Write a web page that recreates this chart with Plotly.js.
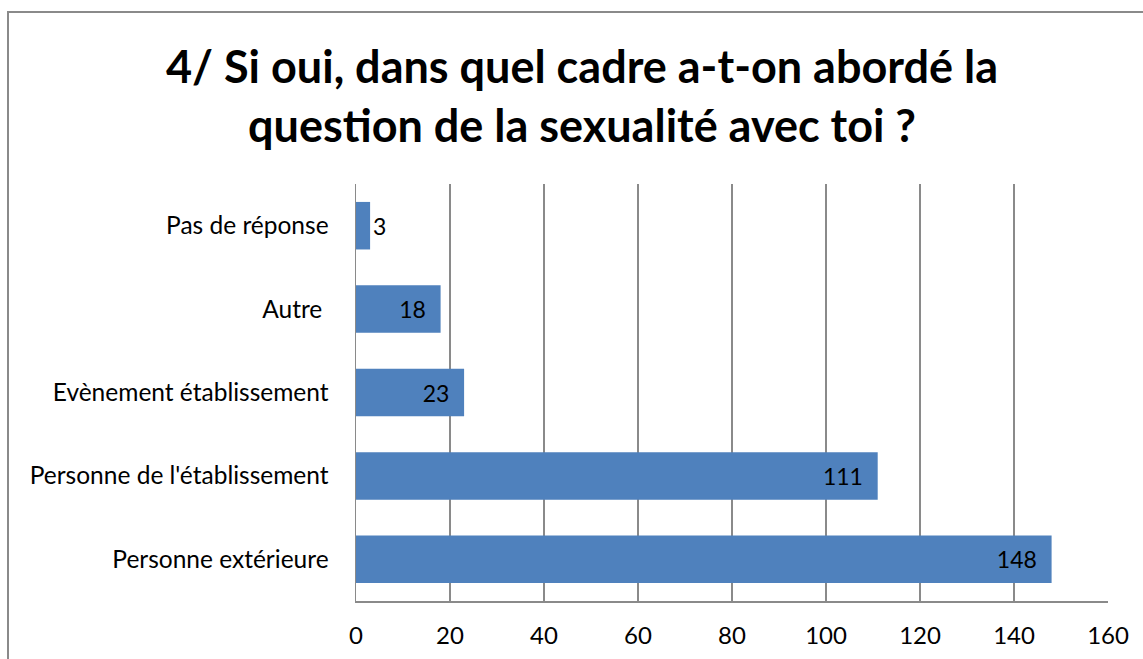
<!DOCTYPE html>
<html><head><meta charset="utf-8">
<script src="https://cdn.plot.ly/plotly-3.0.1.min.js"></script>
<style>html,body{margin:0;padding:0;background:#fff;overflow:hidden}#wrap{position:relative;width:1143px;height:659px;overflow:hidden}#chart{position:absolute;left:0;top:0;width:1143px;height:659px;z-index:1}#frame{position:absolute;left:7px;top:11px;width:1180px;height:700px;border:2px solid #8a8a8a;pointer-events:none;z-index:10;box-sizing:border-box}</style>
</head><body><div id="wrap"><div id="chart"></div><div id="frame"></div></div>
<script>
const categories = ["Personne extérieure", "Personne de l'établissement", "Evènement établissement", "Autre ", "Pas de réponse"];
const values = [148, 111, 23, 18, 3];
const xTicks = [0, 20, 40, 60, 80, 100, 120, 140, 160];
const titleText = "4/ Si oui, dans quel cadre a-t-on abordé la<br>question de la sexualité avec toi ?";

const FONT = "Lato, 'Open Sans', sans-serif";
const W = 1143, H = 659, L = 356, R = 35, T = 184, B = 58;
const pw = W - L - R, ph = H - T - B;

const trace = {
  type: 'bar', orientation: 'h',
  y: categories, x: values,
  marker: {color: '#4F81BD'},
  text: values.map(v => v + '\u00a0\u00a0'),
  textposition: 'auto',
  insidetextanchor: 'end',
  textfont: {family: FONT, size: 23, color: '#000'},
  insidetextfont: {family: FONT, size: 23, color: '#000'},
  outsidetextfont: {family: FONT, size: 23, color: '#000'},
  cliponaxis: false,
  hoverinfo: 'skip'
};

const layout = {
  width: W, height: H,
  margin: {l: L, r: R, t: T, b: B, pad: 0},
  paper_bgcolor: 'rgba(0,0,0,0)', plot_bgcolor: 'rgba(0,0,0,0)',
  bargap: 0.43,
  showlegend: false,
  annotations: [{text: titleText, xref: 'paper', yref: 'paper',
                 x: (582 - L) / pw, xanchor: 'center',
                 y: (T + ph - 96) / ph, yanchor: 'middle',
                 showarrow: false, align: 'center',
                 font: {family: FONT, size: 45, color: '#000', weight: 'bold'}}],
  xaxis: {range: [0, 160], tickvals: xTicks, ticktext: xTicks.map(String),
          showgrid: true, gridcolor: '#8a8a8a', gridwidth: 1.5,
          showline: true, linecolor: '#8a8a8a', linewidth: 1.5, mirror: false,
          zeroline: false, ticks: '', ticklabelstandoff: 13,
          tickfont: {family: FONT, size: 24, color: '#000'}, fixedrange: true},
  yaxis: {showgrid: false, showline: true, linecolor: '#8a8a8a', linewidth: 1.5,
          zeroline: false, ticks: '', ticklabelstandoff: 21,
          tickfont: {family: FONT, size: 24.5, color: '#000'}, fixedrange: true}
};

Plotly.newPlot('chart', [trace], layout, {staticPlot: true, displayModeBar: false});
</script></body></html>
